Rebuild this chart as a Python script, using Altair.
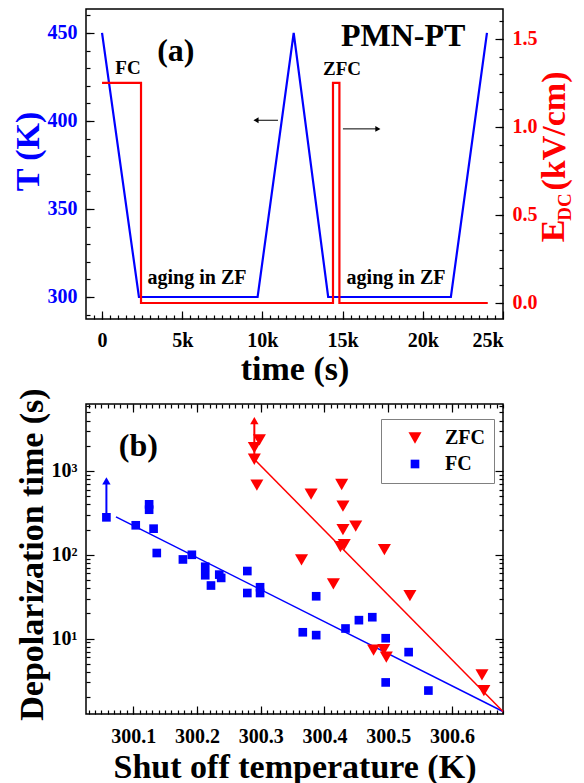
import altair as alt
import pandas as pd

FONT = "Liberation Serif"
BLUE = "#0000ff"
RED = "#ff0000"

# ---------------- panel (a) data ----------------
temp_time = [0, 2300, 9700, 11950, 14100, 21750, 24000]
temp_K = [450, 300, 300, 450, 300, 300, 450]
field_time = [0, 2430, 2430, 14400, 14400, 14800, 14800, 24050]
field_kVcm = [1.25, 1.25, 0.0, 0.0, 1.25, 1.25, 0.0, 0.0]

time_ticks = [0, 5000, 10000, 15000, 20000, 25000]
time_minor = [-500, 0, 500, 1000, 1500, 2000, 2500, 3000, 3500, 4000, 4500, 5000, 5500, 6000, 6500,
              7000, 7500, 8000, 8500, 9000, 9500, 10000, 10500, 11000, 11500, 12000, 12500, 13000,
              13500, 14000, 14500, 15000, 15500, 16000, 16500, 17000, 17500, 18000, 18500, 19000,
              19500, 20000, 20500, 21000, 21500, 22000, 22500, 23000, 23500, 24000, 24500]
T_ticks = [300, 350, 400, 450]
T_minor = [290, 300, 310, 320, 330, 340, 350, 360, 370, 380, 390, 400, 410, 420, 430, 440, 450, 460]
E_ticks = [0.0, 0.5, 1.0, 1.5]
E_minor = [0.0, 0.1, 0.2, 0.3, 0.4, 0.5, 0.6, 0.7, 0.8, 0.9, 1.0, 1.1, 1.2, 1.3, 1.4, 1.5, 1.6]

ann_text = ["(a)", "PMN-PT", "FC", "ZFC", "aging in ZF", "aging in ZF"]
ann_time = [4600, 18770, 1620, 14960, 5920, 18330]
ann_T = [439.8, 448.3, 430.1, 429.5, 310.8, 310.8]
ann_size = [32, 32, 19, 19, 20, 20]

arr_a_start = [9600, 15020]
arr_a_end = [10970, 17200]
arr_a_T = [400.4, 395.5]
arr_a_head = [9600, 17200]
arr_a_shape = ["triangle-left", "triangle-right"]

# ---------------- panel (b) data ----------------
fc_T = [300.058, 300.104, 300.125, 300.125, 300.132, 300.137, 300.178, 300.192, 300.213, 300.213,
        300.222, 300.235, 300.238, 300.279, 300.279, 300.299, 300.299, 300.366, 300.387, 300.387,
        300.433, 300.454, 300.475, 300.496, 300.496, 300.532, 300.563]
fc_tau = [280, 225, 400, 345, 205, 105, 88, 100, 72, 57,
          43, 58, 53, 64, 35, 41, 35, 11.9, 32, 11.0,
          13.2, 16.6, 18.0, 10.1, 3.0, 6.9, 2.4]
zfc_T = [300.290, 300.290, 300.298, 300.294, 300.364, 300.379, 300.414, 300.427, 300.429, 300.429,
         300.425, 300.431, 300.449, 300.494, 300.534, 300.477, 300.493, 300.497, 300.647, 300.650]
zfc_tau = [1380, 1900, 2350, 680, 87, 530, 45, 690, 380, 200,
           125, 132, 220, 115, 32.5, 7.3, 7.4, 6.0, 3.7, 2.4]

fc_fit_T = [300.073, 300.68]
fc_fit_tau = [284, 1.35]
zfc_fit_T = [300.29, 300.68]
zfc_fit_tau = [1380, 1.35]

fc_arrow_T = [300.058]
fc_arrow_base = [280]
fc_arrow_tip = [760]
zfc_arrow_T = [300.290]
zfc_arrow_base = [1380]
zfc_arrow_tip = [4000]

tau_ticks = [10, 100, 1000]
tau_minor = [2, 3, 4, 5, 6, 7, 8, 9, 20, 30, 40, 50, 60, 70, 80, 90,
             200, 300, 400, 500, 600, 700, 800, 900, 2000, 3000, 4000, 5000, 6000]
Ts_ticks = [300.1, 300.2, 300.3, 300.4, 300.5, 300.6]
Ts_minor = [round(300.03 + 0.01 * k, 2) for k in range(66)]


def ax(major=True, xaxis=False, **kw):
    ts = 8 if major else 4
    base = dict(labelFont=FONT, labelFontWeight="bold", labelFontSize=20,
                titleFont=FONT, titleFontWeight="bold", titleFontSize=34,
                domain=False, grid=False, tickColor="black", tickWidth=1.2,
                tickSize=ts, offset=-ts, labelPadding=(12 if xaxis else 9),
                titlePadding=(4 if xaxis else 2),
                labelColor="black", titleColor="black")
    if not major:
        base["labels"] = False
    base.update(kw)
    return alt.Axis(**base)


W, H = 417, 310

# ---------------- panel (a) ----------------
xa = alt.Scale(domain=[-1000, 25000], nice=False, zero=False)
yT = alt.Scale(domain=[287.5, 463.6], nice=False, zero=False)
yE = alt.Scale(domain=[-0.091, 1.67], nice=False, zero=False)

dfT = pd.DataFrame({"time": temp_time, "T": temp_K, "i": list(range(len(temp_time)))})
dfE = pd.DataFrame({"time": field_time, "E": field_kVcm, "i": list(range(len(field_time)))})
dfAnn = pd.DataFrame({"text": ann_text, "time": ann_time, "T": ann_T, "size": ann_size})
dfArrA = pd.DataFrame({"t0": arr_a_start, "t1": arr_a_end, "T": arr_a_T,
                       "th": arr_a_head, "shape": arr_a_shape})

blue = alt.Chart(dfT).mark_line(color=BLUE, strokeWidth=2.2).encode(
    x=alt.X("time:Q", scale=xa, axis=ax(True, True, orient="bottom", values=time_ticks, title="time (s)",
                                        labelPadding=11, titlePadding=2,
                                        labelExpr="datum.value == 0 ? '0' : format(datum.value/1000, 'd') + 'k'")),
    y=alt.Y("T:Q", scale=yT, axis=ax(True, orient="left", values=T_ticks, title="T (K)", titleY=142,
                                     labelColor=BLUE, titleColor=BLUE)),
    order="i:O",
)
red = alt.Chart(dfE).mark_line(color=RED, strokeWidth=2.2).encode(
    x=alt.X("time:Q", scale=xa, axis=ax(False, True, orient="bottom", values=time_minor, title=None)),
    y=alt.Y("E:Q", scale=yE, axis=ax(True, orient="right", values=E_ticks, format=".1f",
                                     labelColor=RED, title=None)),
    order="i:O",
)
red_minor = alt.Chart(dfE).mark_point(opacity=0).encode(
    x=alt.X("time:Q", scale=xa, axis=None),
    y=alt.Y("E:Q", scale=yE, axis=ax(False, orient="right", values=E_minor, title=None)),
)
ann = alt.Chart(dfAnn).mark_text(font=FONT, fontWeight="bold", color="black").encode(
    x=alt.X("time:Q", scale=xa, axis=None),
    y=alt.Y("T:Q", scale=yT, axis=ax(False, orient="left", values=T_minor, title=None)),
    text="text:N",
    size=alt.Size("size:Q", scale=None),
)
arr_rule = alt.Chart(dfArrA).mark_rule(color="black", strokeWidth=1).encode(
    x=alt.X("t0:Q", scale=xa, axis=None), x2="t1:Q",
    y=alt.Y("T:Q", scale=yT, axis=None),
)
arr_head = alt.Chart(dfArrA).mark_point(filled=True, color="black", opacity=1, size=35).encode(
    x=alt.X("th:Q", scale=xa, axis=None),
    y=alt.Y("T:Q", scale=yT, axis=None),
    shape=alt.Shape("shape:N", scale=None),
)
one = pd.DataFrame({"a": [0]})
e_unit = alt.Chart(one).mark_text(font=FONT, fontWeight="bold", color=RED, fontSize=34, angle=270,
                                  align="center", baseline="middle").encode(
    x=alt.value(469), y=alt.value(122), text=alt.value("(kV/cm)"))
e_letter = alt.Chart(one).mark_text(font=FONT, fontWeight="bold", color=RED, fontSize=34, angle=270,
                                    align="center", baseline="middle").encode(
    x=alt.value(468), y=alt.value(222), text=alt.value("E"))
e_sub = alt.Chart(one).mark_text(font=FONT, fontWeight="bold", color=RED, fontSize=19, angle=270,
                                 align="center", baseline="middle").encode(
    x=alt.value(479), y=alt.value(198), text=alt.value("DC"))

top = alt.layer(blue, red, red_minor, ann, arr_rule, arr_head, e_unit, e_letter, e_sub).resolve_scale(
    y="independent").resolve_axis(x="independent", y="independent").properties(width=W, height=H)

# ---------------- panel (b) ----------------
xb = alt.Scale(domain=[300.026, 300.68], nice=False, zero=False)
yb = alt.Scale(type="log", domain=[1.26, 6300], nice=False)

dfPts = pd.DataFrame({
    "T": zfc_T + fc_T,
    "tau": zfc_tau + fc_tau,
    "series": ["ZFC"] * len(zfc_T) + ["FC"] * len(fc_T),
})
dfFitFC = pd.DataFrame({"T": fc_fit_T, "tau": fc_fit_tau})
dfFitZFC = pd.DataFrame({"T": zfc_fit_T, "tau": zfc_fit_tau})
dfArrFC = pd.DataFrame({"T": fc_arrow_T, "base": fc_arrow_base, "tip": fc_arrow_tip})
dfArrZFC = pd.DataFrame({"T": zfc_arrow_T, "base": zfc_arrow_base, "tip": zfc_arrow_tip})

sup = "datum.value == 1000 ? '10³' : datum.value == 100 ? '10²' : '10¹'"

fit_fc = alt.Chart(dfFitFC).mark_line(color=BLUE, strokeWidth=1.5).encode(
    x=alt.X("T:Q", scale=xb, axis=ax(False, True, orient="bottom", values=Ts_minor, title=None)),
    y=alt.Y("tau:Q", scale=yb, axis=ax(False, orient="left", values=tau_minor, title=None)),
)
fit_zfc = alt.Chart(dfFitZFC).mark_line(color=RED, strokeWidth=1.5).encode(
    x=alt.X("T:Q", scale=xb, axis=ax(False, True, orient="top", values=Ts_minor, title=None)),
    y=alt.Y("tau:Q", scale=yb, axis=ax(False, orient="right", values=tau_minor, title=None)),
)


def arrow(df, color, with_axes):
    if with_axes:
        xax = ax(True, True, orient="top", values=Ts_ticks, labels=False, title=None)
        yax = ax(True, orient="right", values=tau_ticks, labels=False, title=None)
    else:
        xax = None
        yax = None
    rule = alt.Chart(df).mark_rule(strokeWidth=2, color=color).encode(
        x=alt.X("T:Q", scale=xb, axis=xax),
        y=alt.Y("base:Q", scale=yb, axis=yax),
        y2="tip:Q",
    )
    head = alt.Chart(df).mark_point(shape="triangle-up", filled=True, opacity=1, size=70, color=color).encode(
        x=alt.X("T:Q", scale=xb, axis=None),
        y=alt.Y("tip:Q", scale=yb, axis=None),
    )
    return rule, head


fc_rule, fc_head = arrow(dfArrFC, BLUE, True)
zfc_rule, zfc_head = arrow(dfArrZFC, RED, False)

pts = alt.Chart(dfPts).mark_point(filled=True, opacity=1).encode(
    x=alt.X("T:Q", scale=xb, axis=ax(True, True, orient="bottom", values=Ts_ticks, format=".1f",
                                     title="Shut off temperature (K)")),
    y=alt.Y("tau:Q", scale=yb, axis=ax(True, orient="left", values=tau_ticks, labelExpr=sup,
                                       title="Depolarization time (s)", titleY=150)),
    color=alt.Color("series:N", scale=alt.Scale(domain=["ZFC", "FC"], range=[RED, BLUE]),
                    legend=alt.Legend(orient="none", legendX=295, legendY=15, title=None,
                                      strokeColor="gray", padding=9, labelFont=FONT,
                                      labelFontWeight="bold", labelFontSize=20, symbolOffset=15,
                                      labelOffset=20, rowPadding=6)),
    shape=alt.Shape("series:N", scale=alt.Scale(domain=["ZFC", "FC"], range=["triangle-down", "square"])),
    size=alt.Size("series:N", scale=alt.Scale(domain=["ZFC", "FC"], range=[170, 75])),
)
b_label = alt.Chart(pd.DataFrame({"T": [300.108], "tau": [1990], "text": ["(b)"]})).mark_text(
    font=FONT, fontWeight="bold", fontSize=32, color="black").encode(
    x=alt.X("T:Q", scale=xb, axis=None), y=alt.Y("tau:Q", scale=yb, axis=None), text="text:N")

bottom = alt.layer(fit_fc, fit_zfc, fc_rule, fc_head, zfc_rule, zfc_head, pts, b_label).resolve_axis(
    x="independent", y="independent").properties(width=W, height=H)

chart = alt.vconcat(top, bottom, spacing=0).resolve_scale(
    color="independent", shape="independent", size="independent"
).properties(
    padding={"left": 2, "top": 0, "right": 0, "bottom": 0}
).configure_view(stroke="black", strokeWidth=1.5).configure_axis(
    labelFont=FONT, labelFontWeight="bold", titleFont=FONT, titleFontWeight="bold"
).configure_legend(labelFont=FONT, labelFontWeight="bold")

chart.save("out.html", embed_options={"renderer": "svg", "actions": False})
